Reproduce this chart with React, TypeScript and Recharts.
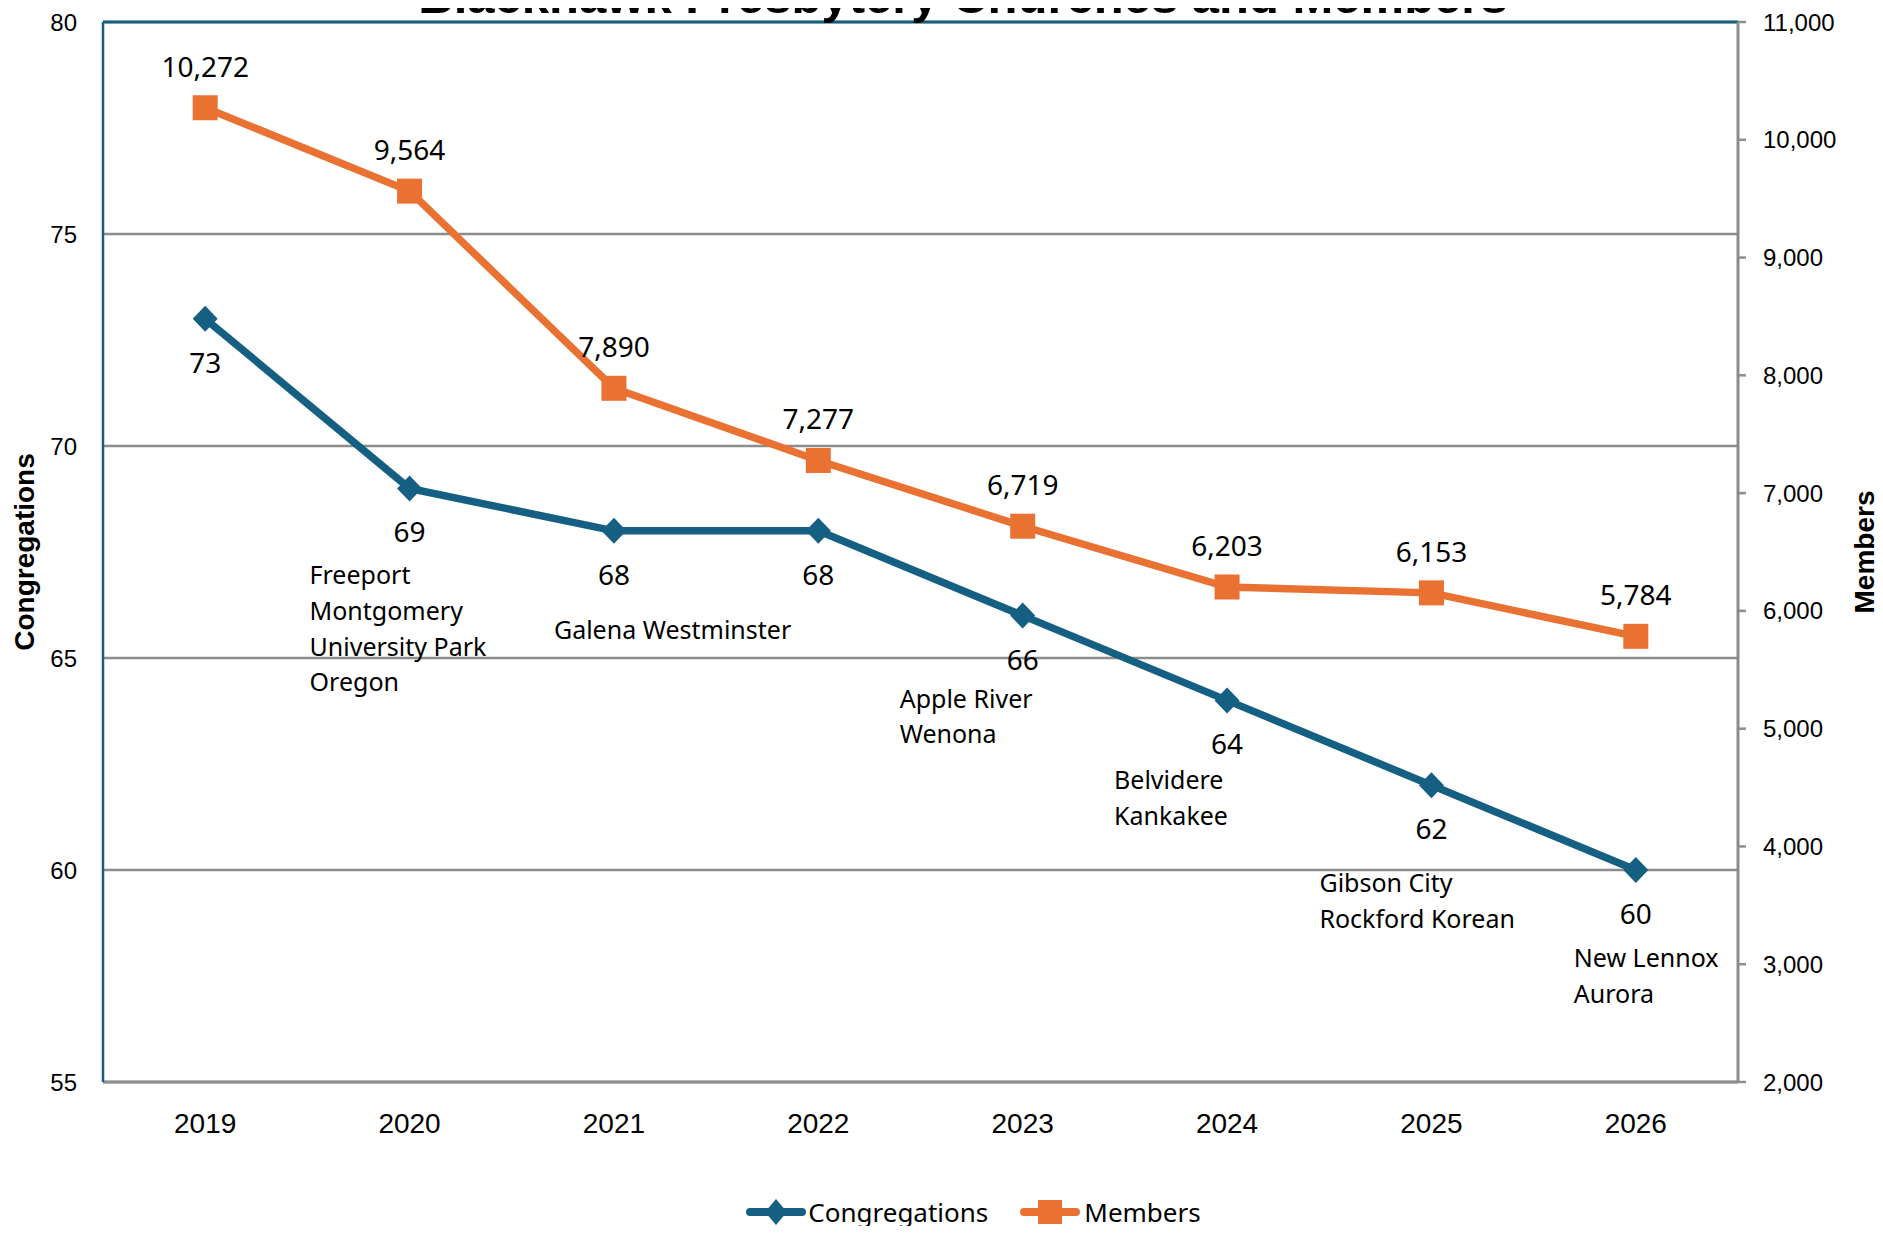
import {
  LineChart,
  Line,
  XAxis,
  YAxis,
  CartesianGrid,
  Legend,
  LabelList,
  ReferenceLine,
} from "recharts";

const years = ["2019", "2020", "2021", "2022", "2023", "2024", "2025", "2026"];
const congregations = [73, 69, 68, 68, 66, 64, 62, 60];
const members = [10272, 9564, 7890, 7277, 6719, 6203, 6153, 5784];
// congregations that closed that year
const closures: string[][] = [
  [],
  ["Freeport", "Montgomery", "University Park", "Oregon"],
  ["Galena Westminster"],
  [],
  ["Apple River", "Wenona"],
  ["Belvidere", "Kankakee"],
  ["Gibson City", "Rockford Korean"],
  ["New Lennox", "Aurora"],
];
const congregationTicks = [55, 60, 65, 70, 75, 80];
const memberTicks = [2000, 3000, 4000, 5000, 6000, 7000, 8000, 9000, 10000, 11000];

const data = years.map((year, i) => ({
  year,
  congregations: congregations[i],
  members: members[i],
}));

// where the closure notes sit, relative to the point
const noteOffsets = [
  { dx: 0, dy: 0 },
  { dx: -100, dy: 86 },
  { dx: -60, dy: 98 },
  { dx: 0, dy: 0 },
  { dx: -123, dy: 82 },
  { dx: -113, dy: 79 },
  { dx: -112, dy: 97 },
  { dx: -62, dy: 87 },
];

const BLUE = "#156082";
const ORANGE = "#E97132";
const GRID = "#8c8c8c";
const ARIAL = "'Liberation Sans', Arial, sans-serif";
const SANS = "'Noto Sans', sans-serif";

function Diamond({ cx, cy }: any) {
  if (cx == null || cy == null) return null;
  return (
    <path
      d={`M${cx},${cy - 13} L${cx + 12.5},${cy} L${cx},${cy + 13} L${cx - 12.5},${cy} Z`}
      fill={BLUE}
    />
  );
}

function Square({ cx, cy }: any) {
  if (cx == null || cy == null) return null;
  return <rect x={cx - 12.5} y={cy - 12.5} width={25} height={25} fill={ORANGE} />;
}

function pos(props: any) {
  const x = props.x ?? props.viewBox?.x ?? 0;
  const y = props.y ?? props.viewBox?.y ?? 0;
  return { x, y };
}

function CongregationLabel(props: any) {
  const { x, y } = pos(props);
  const index = props.index ?? 0;
  const notes = closures[index] ?? [];
  const off = noteOffsets[index];
  return (
    <g>
      <text
        x={x}
        y={y + 43}
        textAnchor="middle"
        dominantBaseline="central"
        fontFamily={SANS}
        fontSize={28}
        fill="#000"
      >
        {props.value}
      </text>
      {notes.map((line, i) => (
        <text
          key={line}
          x={x + off.dx}
          y={y + off.dy + i * 35.6}
          dominantBaseline="central"
          fontFamily={SANS}
          fontSize={25}
          fill="#000"
        >
          {line}
        </text>
      ))}
    </g>
  );
}

function MemberLabel(props: any) {
  const { x, y } = pos(props);
  return (
    <text
      x={x}
      y={y - 42}
      textAnchor="middle"
      dominantBaseline="central"
      fontFamily={SANS}
      fontSize={28}
      fill="#000"
    >
      {Number(props.value).toLocaleString("en-US")}
    </text>
  );
}

function AxisTitle({ viewBox, value, side }: any) {
  const cx = side === "left" ? viewBox.x + 24 : viewBox.x + viewBox.width - 19;
  const cy = viewBox.y + viewBox.height / 2;
  return (
    <text
      x={cx}
      y={cy}
      transform={`rotate(-90 ${cx} ${cy})`}
      textAnchor="middle"
      dominantBaseline="central"
      fontFamily={ARIAL}
      fontWeight="bold"
      fontSize={28}
      fill="#000"
    >
      {value}
    </text>
  );
}

function LegendIcon({ color, shape }: { color: string; shape: "diamond" | "square" }) {
  return (
    <svg width={60} height={30} style={{ display: "block" }}>
      <line x1={4} y1={15} x2={56} y2={15} stroke={color} strokeWidth={8} strokeLinecap="round" />
      {shape === "diamond" ? (
        <path d="M30,2 L41,15 L30,28 L19,15 Z" fill={color} />
      ) : (
        <rect x={18} y={3} width={24} height={24} fill={color} />
      )}
    </svg>
  );
}

function ChartLegend() {
  return (
    <div
      style={{
        display: "flex",
        justifyContent: "center",
        alignItems: "center",
        height: 40,
        lineHeight: "40px",
        marginTop: -2,
        marginLeft: 64,
        fontFamily: SANS,
        fontSize: 26,
        color: "#000",
      }}
    >
      <LegendIcon color={BLUE} shape="diamond" />
      <span style={{ marginLeft: 2, marginRight: 32 }}>Congregations</span>
      <LegendIcon color={ORANGE} shape="square" />
      <span style={{ marginLeft: 4 }}>Members</span>
    </div>
  );
}

export default function App() {
  return (
    <div
      style={{
        position: "relative",
        width: 1883,
        height: 1234,
        margin: -8,
        overflow: "hidden",
        background: "#fff",
      }}
    >
      <LineChart
        width={1883}
        height={1234}
        data={data}
        margin={{ top: 22, right: 0, bottom: 0, left: 0 }}
      >
        <CartesianGrid
          yAxisId="left"
          vertical={false}
          stroke={GRID}
          strokeWidth={2.5}
        />
        <XAxis
          dataKey="year"
          scale="band"
          height={112}
          tickLine={false}
          tickSize={0}
          tickMargin={31}
          axisLine={{ stroke: GRID, strokeWidth: 3 }}
          tick={{ fontFamily: ARIAL, fontSize: 28, fill: "#000" }}
        />
        <YAxis
          yAxisId="left"
          domain={[55, 80]}
          ticks={congregationTicks}
          width={103}
          tickLine={false}
          tickSize={0}
          tickMargin={26}
          axisLine={{ stroke: BLUE, strokeWidth: 2.5 }}
          tick={{ fontFamily: ARIAL, fontSize: 24, fill: "#000" }}
          label={<AxisTitle value="Congregations" side="left" />}
        />
        <YAxis
          yAxisId="right"
          orientation="right"
          domain={[2000, 11000]}
          ticks={memberTicks}
          width={145}
          tickSize={8}
          tickMargin={17}
          tickLine={{ stroke: GRID, strokeWidth: 2.5 }}
          axisLine={{ stroke: GRID, strokeWidth: 3 }}
          tick={{ fontFamily: ARIAL, fontSize: 24, fill: "#000", textAnchor: "start" }}
          tickFormatter={(v) => Number(v).toLocaleString("en-US")}
          label={<AxisTitle value="Members" side="right" />}
        />
        <ReferenceLine yAxisId="left" y={80} stroke={BLUE} strokeWidth={3} />
        <Legend verticalAlign="bottom" height={40} content={() => <ChartLegend />} />
        <Line
          yAxisId="left"
          type="linear"
          dataKey="congregations"
          name="Congregations"
          stroke={BLUE}
          strokeWidth={7.5}
          dot={<Diamond />}
          activeDot={false}
          isAnimationActive={false}
        >
          <LabelList dataKey="congregations" content={<CongregationLabel />} />
        </Line>
        <Line
          yAxisId="right"
          type="linear"
          dataKey="members"
          name="Members"
          stroke={ORANGE}
          strokeWidth={7.5}
          dot={<Square />}
          activeDot={false}
          isAnimationActive={false}
        >
          <LabelList dataKey="members" content={<MemberLabel />} />
        </Line>
      </LineChart>
      <svg
        width={1883}
        height={40}
        style={{ position: "absolute", left: 0, top: 0, pointerEvents: "none" }}
      >
        <text
          x={963}
          y={13}
          textAnchor="middle"
          fontFamily={ARIAL}
          fontWeight="bold"
          fontSize={49}
          fill="#000"
        >
          Blackhawk Presbytery Churches and Members
        </text>
      </svg>
    </div>
  );
}
